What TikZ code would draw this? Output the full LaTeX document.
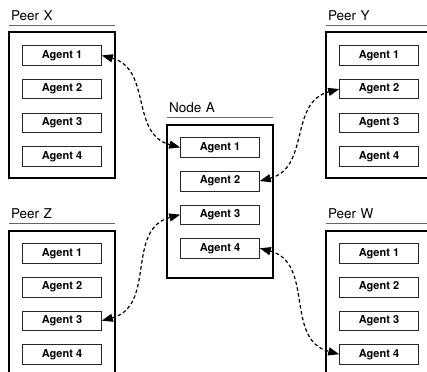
\documentclass[tikz,border=0pt]{standalone}
\usepackage{fontspec}
\setmainfont{TeX Gyre Heros}
\usetikzlibrary{positioning,arrows.meta}
\begin{document}
\begin{tikzpicture}[x=1pt,y=1pt,
					agentnode/.style={rectangle,
					line width=0.6pt,
					minimum width=79pt,
					minimum height=19.5pt,
					inner sep=0pt,
					draw=black!85,
					font=\bfseries\fontsize{11}{12}\selectfont},
					peerbox/.style={rectangle,
					line width=1.2pt,
					minimum width=106pt,
					minimum height=146pt,
					inner sep=0pt,
					draw=black},
					peertitle/.style={text width=102pt,
					inner xsep=2pt,
					inner ysep=5pt,
					text depth=0pt,
					font=\fontsize{13.5}{14}\selectfont},
					titleline/.style={draw=black!60, line width=0.9pt},
					link/.style={{Triangle[length=11pt,width=8pt]}-{Triangle[length=11pt,width=8pt]},
					dash pattern=on 3.5pt off 2.5pt,
					line width=1.2pt,
					looseness=1.1},
					node distance = 13.5pt
					]

\useasboundingbox (0,0) rectangle (427,-371);
\clip (0,0) rectangle (427,-371);

%node A
\node[peerbox, minimum height=153pt]  (A) at (220,-201.5) {};
\node[peertitle]  (Atitle) [above = 6.5pt of A] {Node A};
\node[agentnode]  (A1) [below = 13pt of A.north] {Agent 1};
\node[agentnode]  (A2) [below = of A1] {Agent 2};
\node[agentnode]  (A3) [below = of A2] {Agent 3};
\node[agentnode]  (A4) [below = of A3] {Agent 4};

%peer X
\node[peerbox]  (X) at (62,-105) {};
\node[peertitle]  (Xtitle) [above = 6pt of X] {Peer X};
\node[agentnode]  (X1) [below = 14pt of X.north] {Agent 1};
\node[agentnode]  (X2) [below = of X1] {Agent 2};
\node[agentnode]  (X3) [below = of X2] {Agent 3};
\node[agentnode]  (X4) [below = of X3] {Agent 4};

%peer Y
\node[peerbox]  (Y) at (379,-105) {};
\node[peertitle]  (Ytitle) [above = 6pt of Y] {Peer Y};
\node[agentnode]  (Y1) [below = 14pt of Y.north] {Agent 1};
\node[agentnode]  (Y2) [below = of Y1] {Agent 2};
\node[agentnode]  (Y3) [below = of Y2] {Agent 3};
\node[agentnode]  (Y4) [below = of Y3] {Agent 4};

%peer Z
\node[peerbox]  (Z) at (62,-304) {};
\node[peertitle]  (Ztitle) [above = 6.5pt of Z] {Peer Z};
\node[agentnode]  (Z1) [below = 13pt of Z.north] {Agent 1};
\node[agentnode]  (Z2) [below = of Z1] {Agent 2};
\node[agentnode]  (Z3) [below = of Z2] {Agent 3};
\node[agentnode]  (Z4) [below = of Z3] {Agent 4};

%peer W
\node[peerbox]  (W) at (379,-304) {};
\node[peertitle]  (Wtitle) [above = 6.5pt of W] {Peer W};
\node[agentnode]  (W1) [below = 13pt of W.north] {Agent 1};
\node[agentnode]  (W2) [below = of W1] {Agent 2};
\node[agentnode]  (W3) [below = of W2] {Agent 3};
\node[agentnode]  (W4) [below = of W3] {Agent 4};

% title lines
\draw [titleline] (Atitle.south west) -- (Atitle.south east);
\draw [titleline] (Xtitle.south west) -- (Xtitle.south east);
\draw [titleline] (Ytitle.south west) -- (Ytitle.south east);
\draw [titleline] (Ztitle.south west) -- (Ztitle.south east);
\draw [titleline] (Wtitle.south west) -- (Wtitle.south east);

% Arrows
\draw [link] (X1.east) to[out=-15, in=165] (A1.west);
\draw [link] (A2.east) to[out=15, in=195] (Y2.west);
\draw [link] (Z3.east) to[out=15, in=195] (A3.west);
\draw [link] (A4.east) to[out=-15, in=165] (W4.west);

\end{tikzpicture}
\end{document}
